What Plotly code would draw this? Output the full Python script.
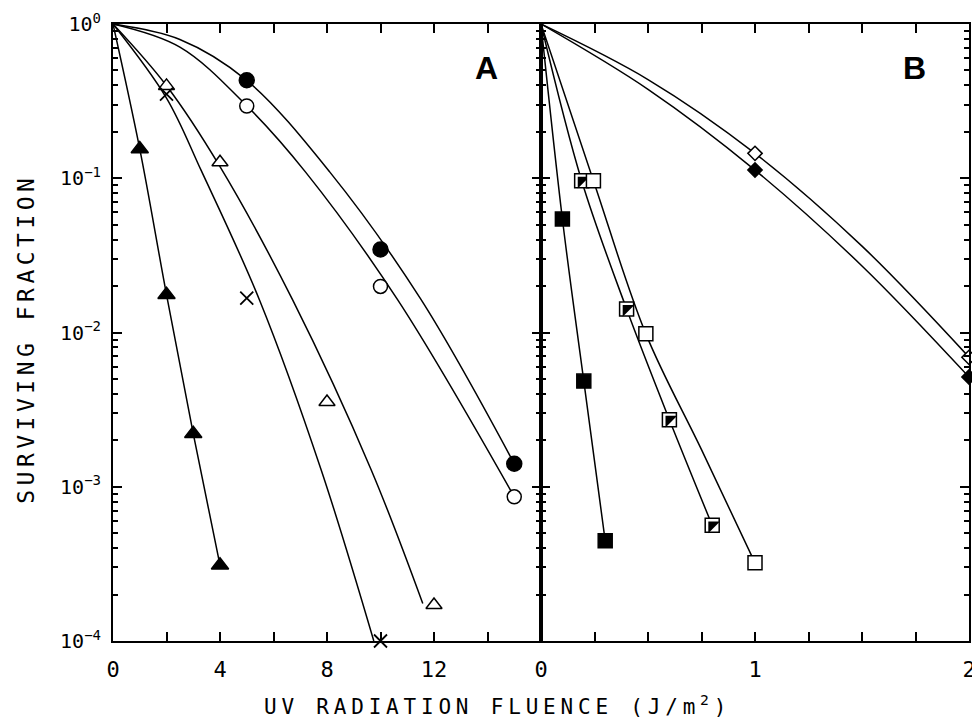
import plotly.graph_objects as go

# ---------------- Panel A (fluence J/m^2 vs surviving fraction) ----------------
a_fcirc_x = [5, 10, 15]
a_fcirc_y = [0.432, 0.0345, 0.00141]
a_ocirc_x = [5, 10, 15]
a_ocirc_y = [0.294, 0.0199, 0.00086]
a_otri_x = [2, 4, 8, 12]
a_otri_y = [0.397, 0.127, 0.00354, 0.000171]
a_cross_x = [2, 5, 10]
a_cross_y = [0.351, 0.0167, 0.0001]
a_ftri_x = [1, 2, 3, 4]
a_ftri_y = [0.155, 0.0176, 0.00221, 0.00031]

# fitted curves
a_fcirc_curve_x = [0, 2.5, 5, 8.1, 11.5, 15]
a_fcirc_curve_y = [1.0, 0.794, 0.431, 0.110, 0.0165, 0.00141]
a_ocirc_curve_x = [0, 2.5, 5, 7.2, 10.65, 15]
a_ocirc_curve_y = [1.0, 0.708, 0.295, 0.1096, 0.0162, 0.000861]
a_otri_curve_x = [0, 2, 4, 6.72, 9.65, 11.58]
a_otri_curve_y = [1.0, 0.398, 0.1189, 0.0162, 0.00129, 0.000175]
a_cross_curve_x = [0, 2, 3.3, 5.48, 7.78, 9.75]
a_cross_curve_y = [1.0, 0.331, 0.112, 0.0162, 0.00129, 0.0001]
a_ftri_curve_x = [0, 1, 2, 3, 4]
a_ftri_curve_y = [1.0, 0.155, 0.0176, 0.00221, 0.00031]

# ---------------- Panel B ----------------
b_odia_x = [1, 2]
b_odia_y = [0.145, 0.0069]
b_fdia_x = [1, 2]
b_fdia_y = [0.113, 0.00514]
b_fsq_x = [0.1, 0.2, 0.3]
b_fsq_y = [0.0544, 0.00484, 0.000446]
b_hsq_x = [0.19, 0.4, 0.6, 0.8]
b_hsq_y = [0.0964, 0.0142, 0.00272, 0.000562]
b_osq_x = [0.245, 0.49, 1.0]
b_osq_y = [0.0964, 0.0098, 0.000321]

b_odia_curve_x = [0, 0.5, 1, 1.5, 2]
b_odia_curve_y = [1.0, 0.4365, 0.145, 0.0363, 0.00692]
b_fdia_curve_x = [0, 0.5, 1, 1.5, 2]
b_fdia_curve_y = [1.0, 0.377, 0.113, 0.0270, 0.00514]
b_fsq_curve_x = [0, 0.1, 0.2, 0.3]
b_fsq_curve_y = [1.0, 0.0544, 0.00484, 0.000446]
b_hsq_curve_x = [0, 0.19, 0.4, 0.6, 0.8]
b_hsq_curve_y = [1.0, 0.0964, 0.0142, 0.00272, 0.000562]
b_osq_curve_x = [0, 0.245, 0.49, 0.75, 1.0]
b_osq_curve_y = [1.0, 0.0964, 0.0098, 0.00174, 0.000321]

# axis ticks
a_tickvals = [0, 2, 4, 6, 8, 10, 12, 14, 16]
a_ticktext = ["0", "", "4", "", "8", "", "12", "", ""]
b_tickvals = [0, 0.25, 0.5, 0.75, 1, 1.25, 1.5, 1.75, 2]
b_ticktext = ["0", "", "", "", "1", "", "", "", "2"]
y_tickvals = [1e-4, 1e-3, 1e-2, 1e-1, 1]
y_ticktext = ["10<sup>−4</sup>", "10<sup>−3</sup>", "10<sup>−2</sup>", "10<sup>−1</sup>", "10<sup>0</sup>"]
y_minor = [k * 10.0 ** e for e in range(-4, 0) for k in range(2, 10)]

fig = go.Figure()
LW = 1.5


def curve(x, y, xa, ya):
    fig.add_trace(go.Scatter(x=x, y=y, mode="lines", xaxis=xa, yaxis=ya,
                             line=dict(color="black", width=LW, shape="spline", smoothing=1.0),
                             hoverinfo="skip"))


def marks(x, y, xa, ya, symbol, size, fill="black", lw=1.5):
    fig.add_trace(go.Scatter(x=x, y=y, mode="markers", xaxis=xa, yaxis=ya, cliponaxis=False,
                             marker=dict(symbol=symbol, size=size, color=fill,
                                         line=dict(color="black", width=lw))))


# Panel A curves
curve(a_fcirc_curve_x, a_fcirc_curve_y, "x", "y")
curve(a_ocirc_curve_x, a_ocirc_curve_y, "x", "y")
curve(a_otri_curve_x, a_otri_curve_y, "x", "y")
curve(a_cross_curve_x, a_cross_curve_y, "x", "y")
curve(a_ftri_curve_x, a_ftri_curve_y, "x", "y")
# Panel A markers
marks(a_fcirc_x, a_fcirc_y, "x", "y", "circle", 15)
marks(a_ocirc_x, a_ocirc_y, "x", "y", "circle", 14, fill="white")
marks(a_otri_x, a_otri_y, "x", "y", "triangle-up", 14, fill="white")
marks(a_ftri_x, a_ftri_y, "x", "y", "triangle-up", 15)
marks(a_cross_x, a_cross_y, "x", "y", "x-thin", 13, lw=1.8)

# Panel B curves
curve(b_odia_curve_x, b_odia_curve_y, "x2", "y2")
curve(b_fdia_curve_x, b_fdia_curve_y, "x2", "y2")
curve(b_fsq_curve_x, b_fsq_curve_y, "x2", "y2")
curve(b_hsq_curve_x, b_hsq_curve_y, "x2", "y2")
curve(b_osq_curve_x, b_osq_curve_y, "x2", "y2")
# Panel B markers
marks(b_odia_x, b_odia_y, "x2", "y2", "diamond", 11, fill="white")
marks(b_fdia_x, b_fdia_y, "x2", "y2", "diamond", 11)
marks(b_fsq_x, b_fsq_y, "x2", "y2", "square", 14)
marks(b_hsq_x, b_hsq_y, "x2", "y2", "square", 14, fill="white")
marks(b_hsq_x, b_hsq_y, "x2", "y2", "triangle-nw", 13, lw=0)
marks(b_osq_x, b_osq_y, "x2", "y2", "square", 14, fill="white")

tickfont_x = dict(family="DejaVu Sans Mono", size=22, color="black")
tickfont_y = dict(family="DejaVu Sans Mono", size=20, color="black")

common_x = dict(showline=True, linewidth=2, linecolor="black", mirror="ticks",
                ticks="inside", ticklen=9, tickwidth=1.5, tickcolor="black",
                showgrid=False, zeroline=False, tickmode="array", tickfont=tickfont_x,
                ticklabelstandoff=8, automargin=False, ticklabeloverflow="allow")
common_y = dict(type="log", range=[-4, 0], showline=True, linewidth=2, linecolor="black",
                mirror="ticks", ticks="inside", ticklen=9, tickwidth=1.5, tickcolor="black",
                showgrid=False, zeroline=False, tickmode="array", tickvals=y_tickvals,
                automargin=False, ticklabeloverflow="allow",
                minor=dict(tickmode="array", tickvals=y_minor, ticks="inside", ticklen=5,
                           tickwidth=1.5, tickcolor="black", showgrid=False))

fig.update_layout(
    width=972, height=718,
    margin=dict(l=113, r=3, t=24, b=77),
    paper_bgcolor="white", plot_bgcolor="white",
    showlegend=False,
    xaxis=dict(domain=[0, 0.5], range=[0, 16], tickvals=a_tickvals, ticktext=a_ticktext, anchor="y", **common_x),
    xaxis2=dict(domain=[0.5, 1], range=[0, 2], tickvals=b_tickvals, ticktext=b_ticktext, anchor="y2", **common_x),
    yaxis=dict(anchor="x", ticktext=y_ticktext, tickfont=tickfont_y, ticklabelstandoff=6, **common_y),
    yaxis2=dict(anchor="x2", matches="y", showticklabels=False, **common_y),
    annotations=[
        dict(text="<b>A</b>", x=0.4364, y=0.9288, xref="paper", yref="paper", showarrow=False,
             font=dict(family="Liberation Sans", size=32, color="black"), xanchor="center", yanchor="middle"),
        dict(text="<b>B</b>", x=0.9358, y=0.9288, xref="paper", yref="paper", showarrow=False,
             font=dict(family="Liberation Sans", size=32, color="black"), xanchor="center", yanchor="middle"),
        dict(text='<span style="letter-spacing:4.5px">SURVIVING FRACTION</span>',
             x=-0.1015, y=0.490, xref="paper", yref="paper", showarrow=False, textangle=-90,
             font=dict(family="DejaVu Sans Mono", size=23, color="black"), xanchor="center", yanchor="middle"),
        dict(text='<span style="letter-spacing:4.8px">UV RADIATION FLUENCE (J/m<sup>2</sup>)</span>',
             x=0.4487, y=-0.104, xref="paper", yref="paper", showarrow=False,
             font=dict(family="DejaVu Sans Mono", size=21, color="black"), xanchor="center", yanchor="middle"),
    ],
)

fig.write_html("out.html", config={"displayModeBar": False},
               post_script="document.body.style.margin='0';document.body.style.overflow='hidden';")
